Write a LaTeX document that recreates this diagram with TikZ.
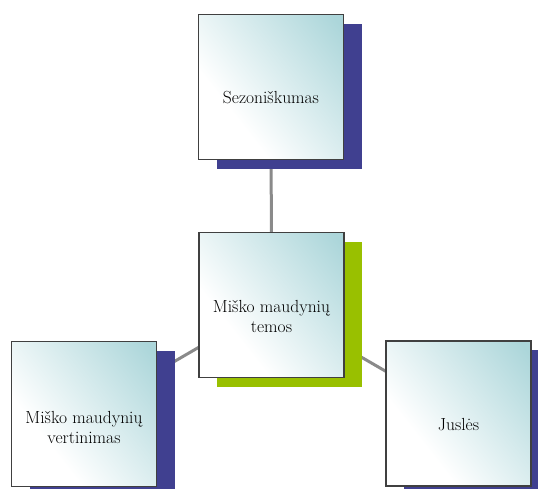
\documentclass[tikz,border=0pt]{standalone}
\usepackage{fontspec}
\usetikzlibrary{shadows,backgrounds}
\definecolor{boxteal}{RGB}{172,214,218}
\definecolor{shblue}{RGB}{64,64,144}
\definecolor{shgreen}{RGB}{153,192,0}
\definecolor{boxedge}{RGB}{64,64,64}
\definecolor{connc}{RGB}{138,138,138}
\pgfdeclarehorizontalshading{boxshade}{100bp}{color(0bp)=(white); color(34bp)=(white); color(82bp)=(boxteal); color(100bp)=(boxteal)}
\tikzset{
  box/.style={draw=boxedge, line width=1.2pt, minimum width=145pt, minimum height=145pt, inner sep=0pt, shading=boxshade, shading angle=38},
  blueshadow/.style={general shadow={shadow xshift=18pt, shadow yshift=-9pt, fill=shblue}},
  greenshadow/.style={general shadow={shadow xshift=18pt, shadow yshift=-9pt, fill=shgreen}},
  txt/.style={font=\fontsize{17.5pt}{20pt}\selectfont, align=center, inner sep=0pt},
  conn/.style={draw=connc, line width=3pt}
}
\begin{document}
\begin{tikzpicture}[x=1pt,y=-1pt]
\useasboundingbox (0,0) rectangle (538,488);
\node[box, blueshadow] (top) at (271,87) {};
\node[box, greenshadow] (mid) at (271.5,305) {};
\node[box, blueshadow] (left) at (84,414) {};
\node[box, blueshadow] (right) at (458.5,413.5) {};
\node[txt] (topT) at ([yshift=-11pt]top.center) {Sezoniškumas};
\node[txt] (midT) at ([yshift=-11pt]mid.center) {Miško maudynių\\temos};
\node[txt] (leftT) at ([yshift=-13pt]left.center) {Miško maudynių\\vertinimas};
\node[txt] (rightT) at ([yshift=-11pt]right.center) {Juslės};
\begin{scope}[on background layer]
\draw[conn] (mid.center) -- (top.center);
\draw[conn] (mid.center) -- (left.center);
\draw[conn] (mid.center) -- (right.center);
\end{scope}
\end{tikzpicture}
\end{document}
